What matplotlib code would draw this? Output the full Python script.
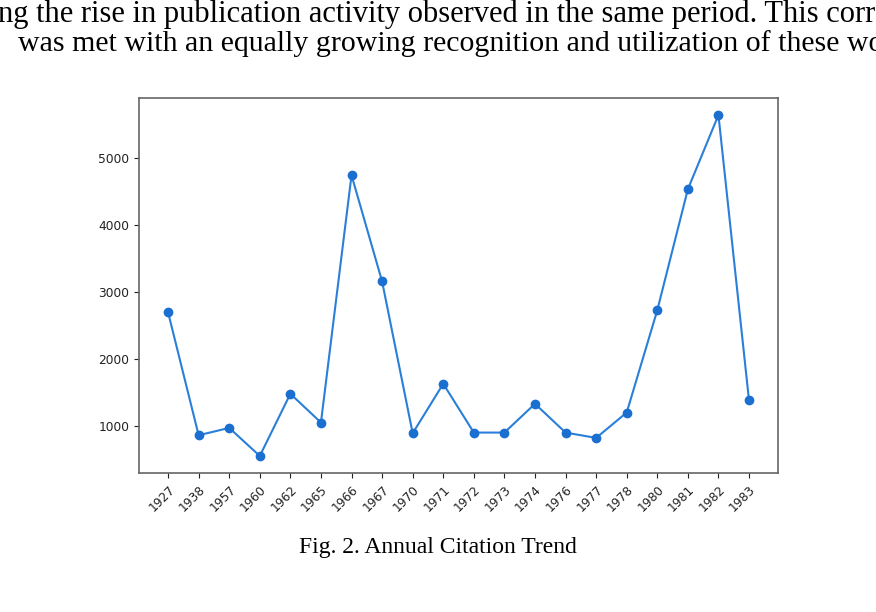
import matplotlib.pyplot as plt

years = ['1927', '1938', '1957', '1960', '1962', '1965', '1966', '1967', '1970', '1971',
         '1972', '1973', '1974', '1976', '1977', '1978', '1980', '1981', '1982', '1983']
citations = [2700, 860, 970, 550, 1480, 1050, 4750, 3160, 890, 1630,
             900, 900, 1330, 900, 820, 1200, 2730, 4540, 5650, 1380]

line1 = 'ng the rise in publication activity observed in the same period. This corr'
line2 = 'was met with an equally growing recognition and utilization of these wo'
caption = 'Fig. 2. Annual Citation Trend'

fig = plt.figure(figsize=(8.76, 6.12), dpi=100)
ax = fig.add_axes([0.1587, 0.2271, 0.7295, 0.6128])

x = list(range(len(years)))
ax.plot(x, citations, color='#2a7fd8', linewidth=1.5,
        marker='o', markersize=6, markerfacecolor='#1b6fd0', markeredgecolor='#1b6fd0')
ax.set_xticks(x)
ax.set_xticklabels(years, rotation=45, ha='right', rotation_mode='anchor')
ax.set_yticks([1000, 2000, 3000, 4000, 5000])
ax.tick_params(labelsize=8.8, colors='#222222', length=3.5)
for s in ax.spines.values():
    s.set_color('#666666')
    s.set_linewidth(1.2)

serif = ['Liberation Serif', 'DejaVu Serif']
fig.text(-0.002, 0.977, line1, family=serif, fontsize=22, va='center', ha='left')
fig.text(0.021, 0.929, line2, family=serif, fontsize=21.5, va='center', ha='left')
fig.text(0.5, 0.105, caption, family=serif, fontsize=17, va='center', ha='center')

fig.savefig('out.png', dpi=100)
